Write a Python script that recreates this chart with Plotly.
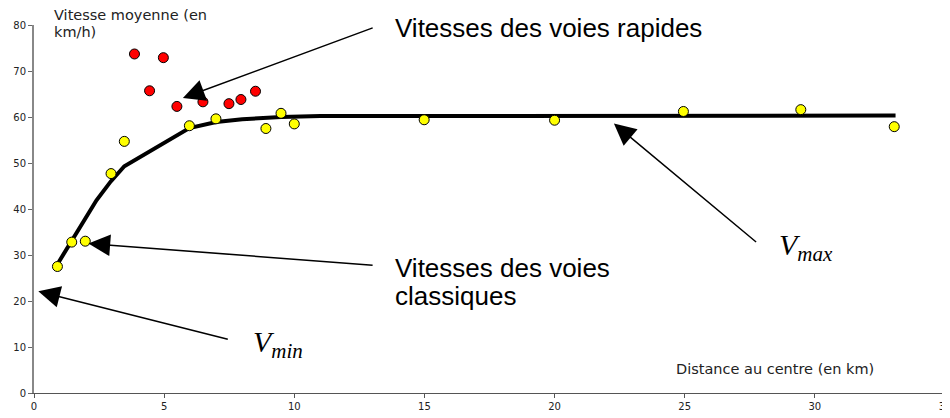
import plotly.graph_objects as go

# --- data ---
red_x = [3.86, 4.97, 4.44, 5.49, 6.49, 7.49, 7.95, 8.51]
red_y = [73.7, 72.9, 65.7, 62.3, 63.3, 62.9, 63.8, 65.6]

yellow_x = [0.9, 1.45, 1.97, 2.96, 3.47, 5.97, 6.99, 8.91, 9.49, 10.0, 14.99, 20.0, 24.95, 29.46, 33.05]
yellow_y = [27.5, 32.8, 33.0, 47.7, 54.7, 58.1, 59.6, 57.5, 60.8, 58.5, 59.4, 59.3, 61.2, 61.6, 57.9]

curve_x = [0.9, 1.45, 1.85, 2.4, 2.95, 3.47, 5.97, 7.0, 8.0, 9.5, 11.0, 33.1]
curve_y = [28.0, 33.2, 36.8, 41.9, 46.0, 49.3, 57.6, 58.9, 59.5, 60.0, 60.2, 60.3]

x_ticks = [0, 5, 10, 15, 20, 25, 30, 35]
y_ticks = [0, 10, 20, 30, 40, 50, 60, 70, 80]

y_title_lines = ["Vitesse moyenne (en", "km/h)"]
x_title = "Distance au centre (en km)"
label_rapides = "Vitesses des voies rapides"
label_classiques = ["Vitesses des voies", "classiques"]

fig = go.Figure()

fig.add_trace(go.Scatter(x=curve_x, y=curve_y, mode="lines",
                         line=dict(color="black", width=4), hoverinfo="skip"))
fig.add_trace(go.Scatter(x=yellow_x, y=yellow_y, mode="markers",
                         marker=dict(color="#FFFF00", size=10, line=dict(color="black", width=1))))
fig.add_trace(go.Scatter(x=red_x, y=red_y, mode="markers",
                         marker=dict(color="#FF0000", size=10, line=dict(color="black", width=1))))

big = dict(family="Liberation Sans, Arial", size=26, color="black")
serif = dict(family="Liberation Serif, Times New Roman", size=30, color="black")
small = dict(family="DejaVu Sans", size=14.5, color="#222")

ann = []
# texts
ann.append(dict(x=13.81, y=79.4, text=label_rapides, showarrow=False, xanchor="left", yanchor="middle", font=big))
ann.append(dict(x=13.81, y=27.2, text=label_classiques[0], showarrow=False, xanchor="left", yanchor="middle", font=big))
ann.append(dict(x=13.81, y=21.0, text=label_classiques[1], showarrow=False, xanchor="left", yanchor="middle", font=big))
ann.append(dict(x=28.55, y=31.8, text="<i>V<sub>max</sub></i>", showarrow=False, xanchor="left", yanchor="middle", font=serif))
ann.append(dict(x=8.33, y=10.7, text="<i>V<sub>min</sub></i>", showarrow=False, xanchor="left", yanchor="middle", font=serif))
ann.append(dict(x=0.7, y=1.027, yref="paper", text=y_title_lines[0], showarrow=False, xanchor="left", yanchor="middle", font=small))
ann.append(dict(x=0.7, y=0.981, yref="paper", text=y_title_lines[1], showarrow=False, xanchor="left", yanchor="middle", font=small))
ann.append(dict(x=24.6, y=5.15, text=x_title, showarrow=False, xanchor="left", yanchor="middle", font=small))

# arrows (tip in data coords, tail as pixel offset)
arrow_style = dict(showarrow=True, text="", arrowhead=2, arrowsize=2.9, arrowwidth=1.5,
                   arrowcolor="black", axref="pixel", ayref="pixel", standoff=0, startstandoff=0)
for tip_x, tip_y, ax, ay in [(5.72, 64.13, 191.3, -70.7),
                             (2.09, 32.48, 285.7, 21.7),
                             (22.28, 58.57, 143.7, 119.7),
                             (0.165, 22.1, 191.0, 48.3)]:
    ann.append(dict(x=tip_x, y=tip_y, ax=ax, ay=ay, **arrow_style))

# the page body has an 8px margin, so the figure is sized/margined to compensate
fig.update_layout(
    width=942, height=410,
    margin=dict(l=26, r=5, t=17, b=25, autoexpand=False),
    paper_bgcolor="white", plot_bgcolor="white",
    showlegend=False,
    annotations=ann,
    xaxis=dict(range=[0, 35], tickvals=x_ticks, showgrid=False, zeroline=False,
               showline=True, linecolor="#555", linewidth=1,
               ticks="outside", ticklen=4, tickcolor="#555",
               ticklabeloverflow="allow",
               tickfont=dict(family="DejaVu Sans", size=10, color="#222")),
    yaxis=dict(range=[0, 80], tickvals=y_ticks, showgrid=False, zeroline=False,
               showline=True, linecolor="#888", linewidth=2,
               ticks="outside", ticklen=4, tickcolor="#666",
               tickfont=dict(family="DejaVu Sans", size=10, color="#222")),
)

fig.write_html("out.html")
